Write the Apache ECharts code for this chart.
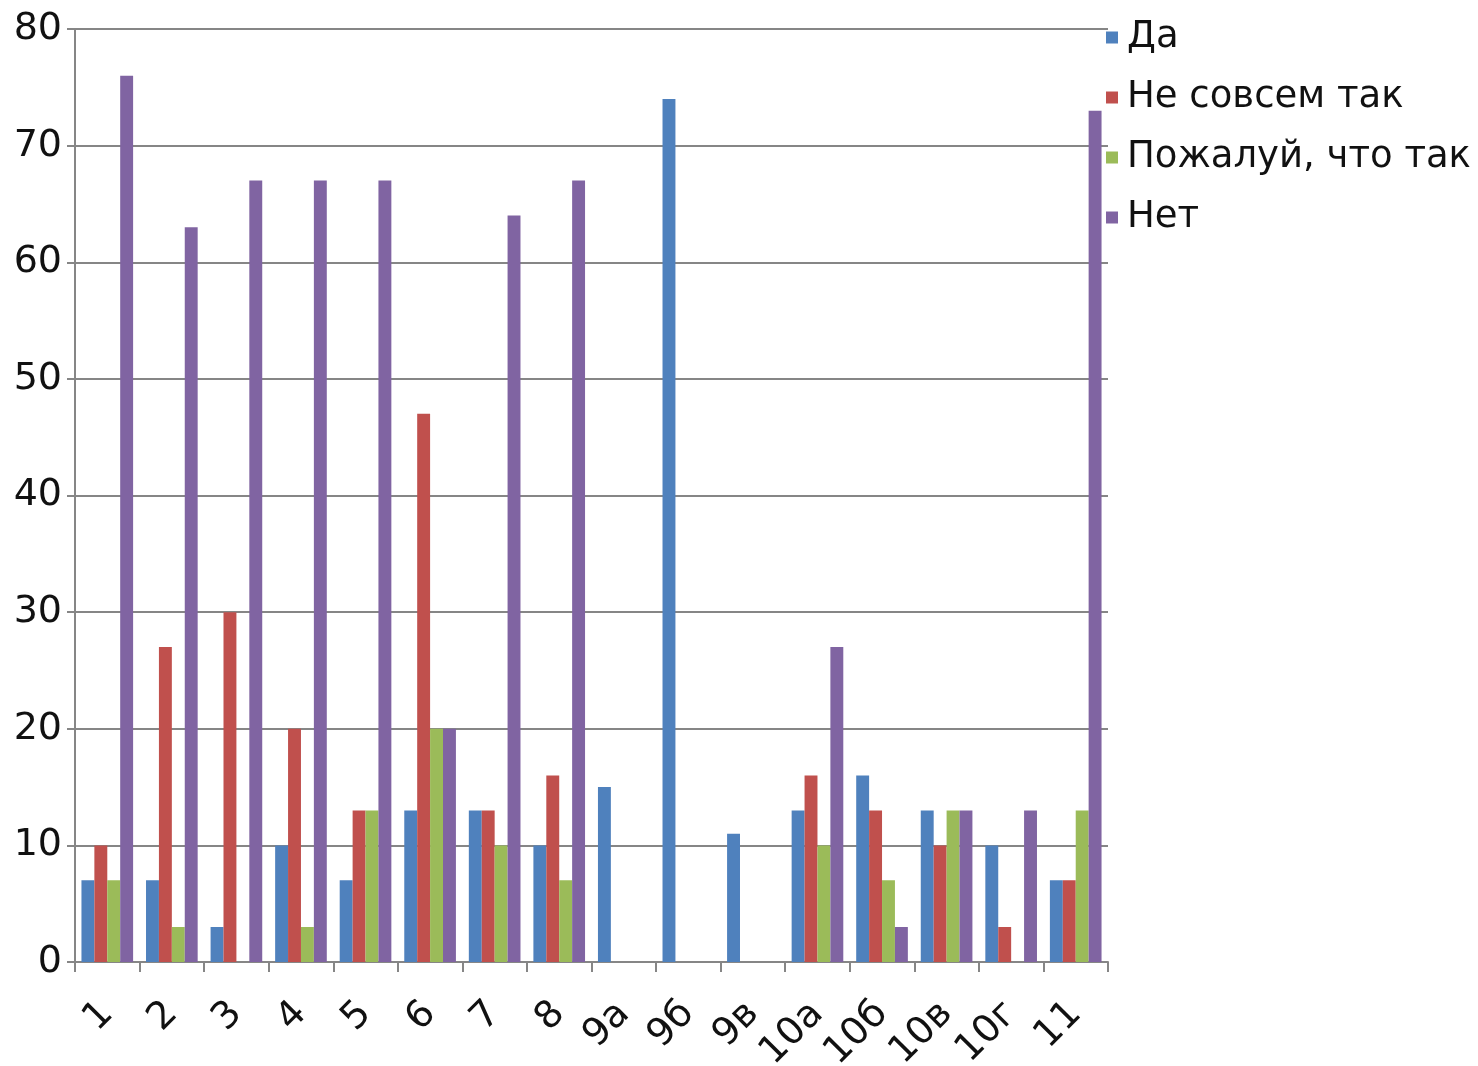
<!DOCTYPE html>
<html><head><meta charset="utf-8">
<script src="https://cdn.jsdelivr.net/npm/echarts@6/dist/echarts.min.js"></script>
<style>html,body{margin:0;padding:0;background:#fff}#c{width:1478px;height:1066px}</style>
</head><body><div id="c"></div>
<script>
const categories = ['1','2','3','4','5','6','7','8','9а','9б','9в','10а','10б','10в','10г','11'];
const seriesNames = ['Да','Не совсем так','Пожалуй, что так','Нет'];
const da        = [7, 7, 3, 10, 7, 13, 13, 10, 15, 74, 11, 13, 16, 13, 10, 7];
const neSovsem  = [10, 27, 30, 20, 13, 47, 13, 16, 0, 0, 0, 16, 13, 10, 3, 7];
const pozhaluy  = [7, 3, 0, 3, 13, 20, 10, 7, 0, 0, 0, 10, 7, 13, 0, 13];
const net       = [76, 63, 67, 67, 67, 20, 64, 67, 0, 0, 0, 27, 3, 13, 13, 73];
const yTicks = [0, 10, 20, 30, 40, 50, 60, 70, 80];
const colors = ['#4F81BD', '#C0504D', '#9BBB59', '#8064A2'];
const values = [da, neSovsem, pozhaluy, net];

const FONT = 'DejaVu Sans';
const chart = echarts.init(document.getElementById('c'));
chart.setOption({
  animation: false,
  color: colors,
  textStyle: { fontFamily: FONT },
  grid: { left: 75, right: 370, top: 29, bottom: 104, containLabel: false, outerBoundsMode: 'none' },
  legend: {
    orient: 'vertical', left: 1101, top: 14,
    icon: 'rect', itemWidth: 12, itemHeight: 12, itemGap: 23,
    textStyle: { fontSize: 37, lineHeight: 36, color: '#111', fontFamily: FONT, padding: [0,0,0,4] },
    data: seriesNames
  },
  xAxis: {
    type: 'category', data: categories,
    axisLine: { lineStyle: { color: '#868686', width: 2 } },
    axisTick: { show: true, length: 10, lineStyle: { color: '#868686', width: 2 } },
    axisLabel: { rotate: 45, fontSize: 38, color: '#111', margin: 46, interval: 0 }
  },
  yAxis: {
    type: 'value', min: 0, max: 80, interval: 10,
    axisLine: { show: true, lineStyle: { color: '#868686', width: 2 } },
    axisTick: { show: true, length: 8, lineStyle: { color: '#868686', width: 2 } },
    axisLabel: { fontSize: 38, color: '#111', margin: 13,
      formatter: v => yTicks.includes(v) ? String(v) : '' },
    splitLine: { lineStyle: { color: '#868686', width: 2 } }
  },
  series: seriesNames.map((n, i) => ({
    name: n, type: 'bar', data: values[i],
    barGap: '0%', barCategoryGap: '20%',
    itemStyle: { color: colors[i] }
  }))
});
</script></body></html>
